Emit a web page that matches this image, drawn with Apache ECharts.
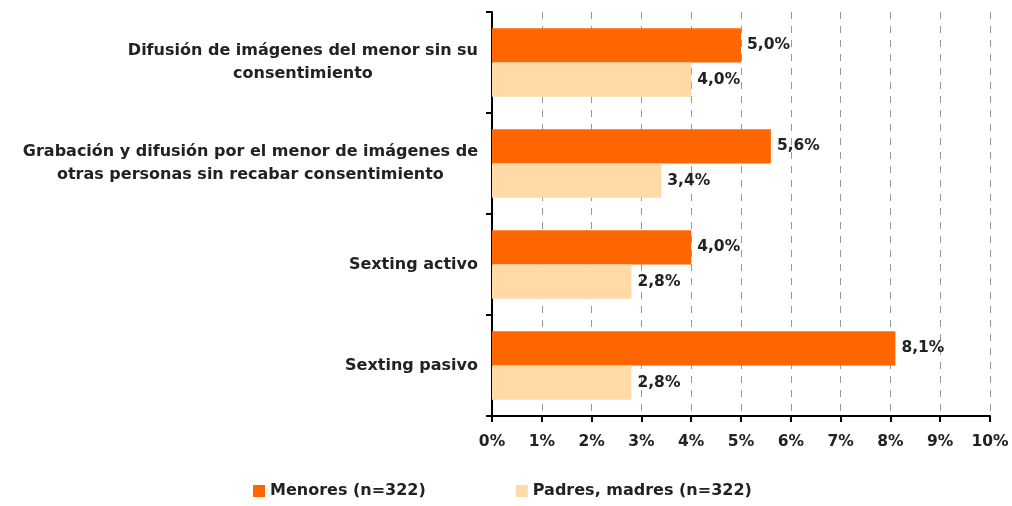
<!DOCTYPE html>
<html><head><meta charset="utf-8">
<script src="https://cdn.jsdelivr.net/npm/echarts@6/dist/echarts.min.js"></script>
<style>html,body{margin:0;padding:0;background:#fff}#c{width:1012px;height:506px}</style>
</head><body><div id="c"></div>
<script>
const categories = [
  "Difusión de imágenes del menor sin su\nconsentimiento",
  "Grabación y difusión por el menor de imágenes de\notras personas sin recabar consentimiento",
  "Sexting activo",
  "Sexting pasivo"
];
const seriesNames = ["Menores (n=322)", "Padres, madres (n=322)"];
const menores = [5.0, 5.6, 4.0, 8.1];
const padres = [4.0, 3.4, 2.8, 2.8];
const FONT = "DejaVu Sans";
const chart = echarts.init(document.getElementById('c'));
const fmt = p => p.value.toFixed(1).replace('.', ',') + '%';
const labelStyle = {show: true, position: 'right', distance: 6, formatter: fmt,
  fontFamily: FONT, fontWeight: 'bold', fontSize: 15.5, color: '#222'};
chart.setOption({
  animation: false,
  grid: {left: 492, right: 22, top: 12, bottom: 90, containLabel: false},
  legend: {
    bottom: 2, left: 248, itemGap: 90, itemWidth: 12, itemHeight: 12, itemStyle: {borderWidth: 0},
    icon: 'rect', textStyle: {fontFamily: FONT, fontWeight: 'bold', fontSize: 16, color: '#222'},
    data: seriesNames
  },
  xAxis: {
    type: 'value', min: 0, max: 10, interval: 1,
    axisLine: {show: true, lineStyle: {color: '#000', width: 2}},
    axisTick: {show: true, length: 6, lineStyle: {color: '#000', width: 2}},
    axisLabel: {formatter: '{value}%', margin: 18, fontFamily: FONT, fontWeight: 'bold', fontSize: 15.5, color: '#222'},
    splitLine: {show: true, lineStyle: {color: '#999', type: [7, 7], width: 1}}
  },
  yAxis: {
    type: 'category', inverse: true, data: categories,
    axisLine: {show: true, lineStyle: {color: '#000', width: 2}},
    axisTick: {show: true, length: 6, lineStyle: {color: '#000', width: 2}},
    axisLabel: {
      margin: 14, align: 'right',
      formatter: v => v.split('\n').map(s => '{c|' + s + '}').join('\n'),
      rich: {c: {align: 'center', fontFamily: FONT, fontWeight: 'bold', fontSize: 16, color: '#222', lineHeight: 23}}
    }
  },
  series: [
    {name: seriesNames[0], type: 'bar', data: menores, barGap: '0%', barCategoryGap: '32%',
     itemStyle: {color: '#FF6600'}, label: labelStyle},
    {name: seriesNames[1], type: 'bar', data: padres,
     itemStyle: {color: '#FFDAA6'}, label: labelStyle}
  ]
});
</script></body></html>
